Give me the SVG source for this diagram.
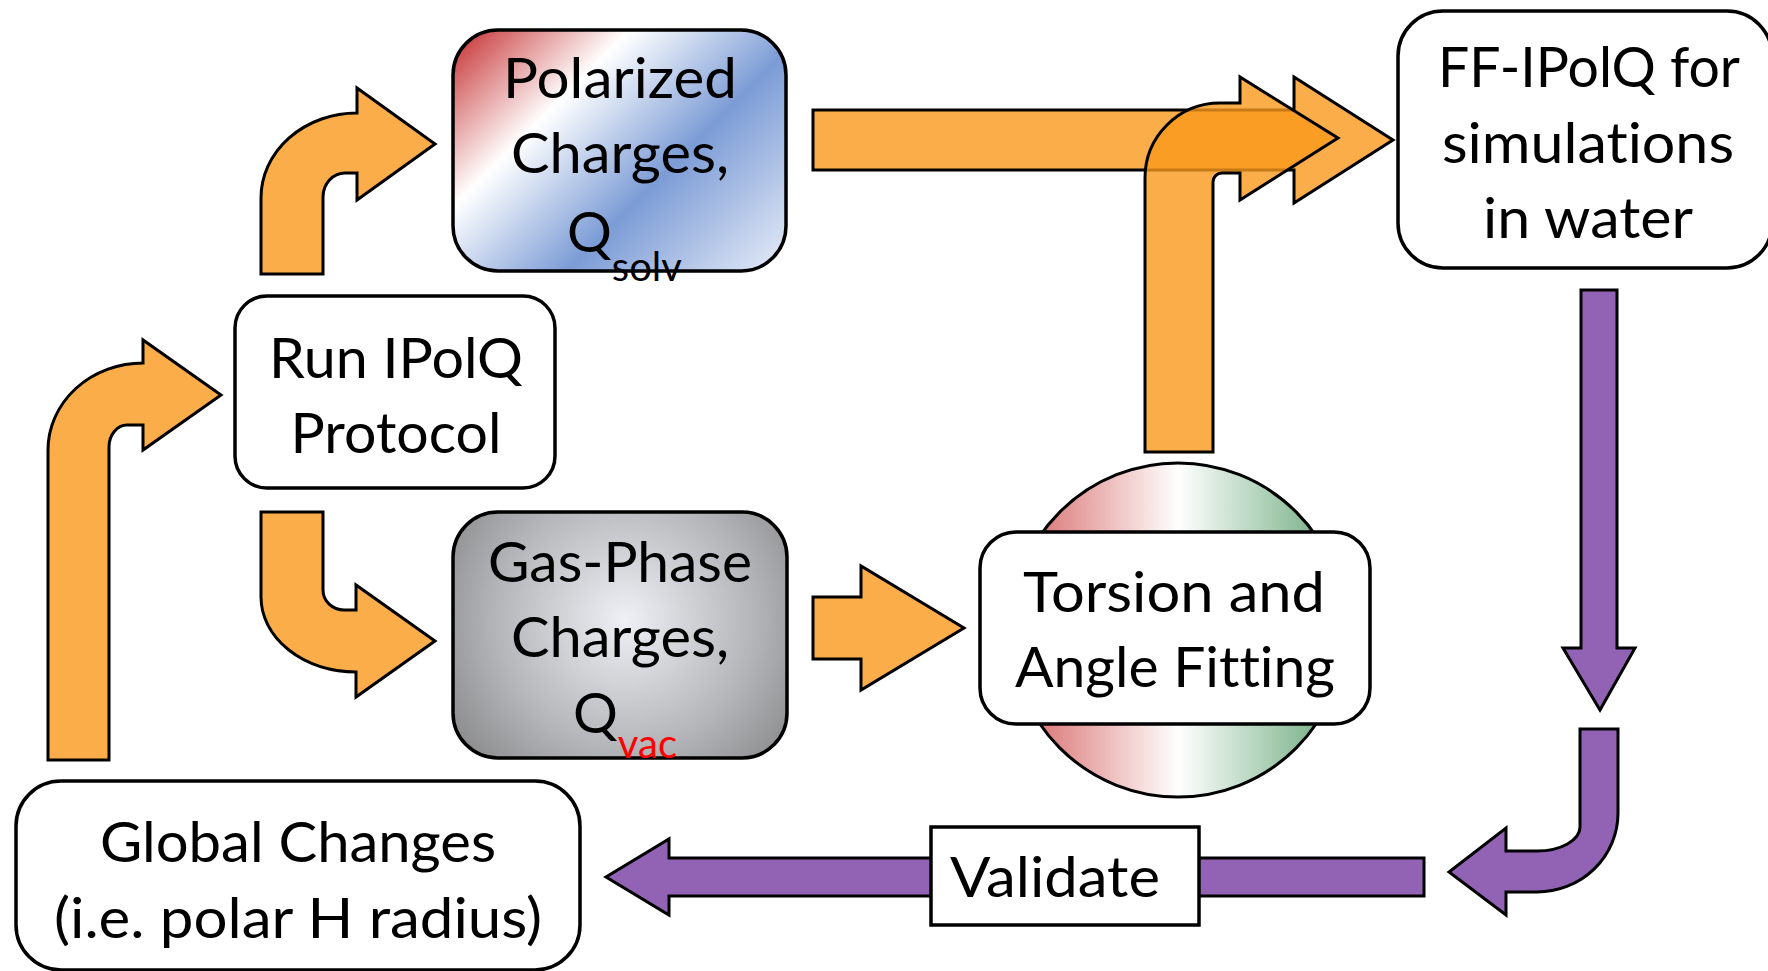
<svg xmlns="http://www.w3.org/2000/svg" width="1768" height="971" viewBox="0 0 1768 971">
<defs>
<style>
.box{stroke:#000;stroke-width:3.5}
.org{fill:#F9991C;fill-opacity:0.8;stroke:#000;stroke-width:3;stroke-linejoin:miter}
.pur{fill:#9263B5;stroke:#000;stroke-width:3;stroke-linejoin:miter}
.t{font-family:Lato,"Open Sans","Liberation Sans",sans-serif;font-size:56px;fill:#000;text-anchor:middle;font-variant-ligatures:none;font-feature-settings:"liga" 0,"dlig" 0}
.ts{font-family:Lato,"Open Sans","Liberation Sans",sans-serif;font-size:56px;fill:#000;font-variant-ligatures:none;font-feature-settings:"liga" 0}
</style>
<linearGradient id="gPol" gradientUnits="userSpaceOnUse" x1="453" y1="30" x2="739" y2="316">
<stop offset="0" stop-color="#c42a2c"/>
<stop offset="0.31" stop-color="#ffffff"/>
<stop offset="0.62" stop-color="#7c9cd6"/>
<stop offset="1" stop-color="#e6ecf7"/>
</linearGradient>
<radialGradient id="gGas" gradientUnits="userSpaceOnUse" cx="625" cy="620" r="235">
<stop offset="0" stop-color="#eff0f5"/>
<stop offset="0.55" stop-color="#b4b5b9"/>
<stop offset="1" stop-color="#7c7c7c"/>
</radialGradient>
<linearGradient id="gTor" gradientUnits="userSpaceOnUse" x1="1011" y1="0" x2="1345" y2="0">
<stop offset="0" stop-color="#d4605f"/>
<stop offset="0.5" stop-color="#ffffff"/>
<stop offset="1" stop-color="#64a575"/>
</linearGradient>
</defs>
<rect width="1768" height="971" fill="#fff"/>

<g id="connectors">
<path class="org" d="M 261 274 L 261 198 A 96 85 0 0 1 357 113 L 357 88 L 435 144 L 357 200 L 357 173 L 345 173 A 22 24 0 0 0 323 197 L 323 274 Z"/>
<path class="org" d="M 48 760 L 48 450 A 95 87 0 0 1 143 363 L 143 340 L 221 395 L 143 450 L 143 425 L 127 425 A 18 22 0 0 0 109 447 L 109 760 Z"/>
<path class="org" d="M 261 512 L 323 512 L 323 590 A 21 20 0 0 0 344 610 L 356 610 L 356 585 L 435 641 L 356 697 L 356 672 A 95 75 0 0 1 261 597 Z"/>
<path class="org" d="M 813 597 L 861 597 L 861 566 L 964 628 L 861 690 L 861 659 L 813 659 Z"/>
<path class="org" d="M 813 110 L 1294 110 L 1294 77 L 1393 140 L 1294 203 L 1294 170 L 813 170 Z"/>
<path class="org" d="M 1145 452 L 1145 178 A 75 75 0 0 1 1220 103 L 1240 103 L 1240 77 L 1338 138 L 1240 200 L 1240 173 L 1222 173 A 9 9 0 0 0 1213 182 L 1213 452 Z"/>
<path class="pur" d="M 1581 290 L 1617 290 L 1617 648 L 1635 648 L 1600 710 L 1563 648 L 1581 648 Z"/>
<path class="pur" d="M 1580 729 L 1618 729 L 1618 813 A 81 79 0 0 1 1537 892 L 1506 892 L 1506 915 L 1449 872 L 1506 828 L 1506 851 L 1537 851 A 43 24 0 0 0 1580 827 Z"/>
<path class="pur" d="M 1424 858 L 669 858 L 669 839 L 606 877 L 669 915 L 669 896 L 1424 896 Z"/>
</g>

<g id="node-polarized">
<rect class="box" x="453" y="30" width="333" height="241" rx="45" fill="url(#gPol)"/>
<text class="t" x="620" y="98" textLength="234" lengthAdjust="spacingAndGlyphs">Polarized</text>
<text class="t" x="620" y="173" textLength="218" lengthAdjust="spacingAndGlyphs">Charges,</text>
<text class="ts" x="567" y="252">Q<tspan font-size="40" dy="29">solv</tspan></text>
</g>

<g id="node-run">
<rect class="box" x="235" y="296" width="320" height="192" rx="32" fill="#fff"/>
<text class="t" x="396" y="378" textLength="254" lengthAdjust="spacingAndGlyphs">Run IPolQ</text>
<text class="t" x="396" y="453" textLength="211" lengthAdjust="spacingAndGlyphs">Protocol</text>
</g>

<g id="node-gas">
<rect class="box" x="453" y="512" width="334" height="246" rx="45" fill="url(#gGas)"/>
<text class="t" x="620" y="582" textLength="264" lengthAdjust="spacingAndGlyphs">Gas-Phase</text>
<text class="t" x="620" y="657" textLength="218" lengthAdjust="spacingAndGlyphs">Charges,</text>
<text class="ts" x="573" y="733">Q<tspan font-size="40" dy="25" fill="#ff0000">vac</tspan></text>
</g>

<g id="node-torsion">
<circle cx="1178" cy="630" r="167" fill="url(#gTor)" stroke="#000" stroke-width="3"/>
<rect class="box" x="980" y="532" width="390" height="192" rx="36" fill="#fff"/>
<text class="t" x="1174" y="612" textLength="302" lengthAdjust="spacingAndGlyphs">Torsion and</text>
<text class="t" x="1175" y="687" textLength="320" lengthAdjust="spacingAndGlyphs">Angle Fitting</text>
</g>

<g id="node-ff">
<rect class="box" x="1398" y="11" width="374" height="257" rx="45" fill="#fff"/>
<text class="t" x="1589" y="87" textLength="302" lengthAdjust="spacingAndGlyphs">FF-IPolQ for</text>
<text class="t" x="1588" y="163" textLength="292" lengthAdjust="spacingAndGlyphs">simulations</text>
<text class="t" x="1588" y="238" textLength="210" lengthAdjust="spacingAndGlyphs">in water</text>
</g>

<g id="node-validate">
<rect class="box" x="931" y="827" width="268" height="98" fill="#fff"/>
<text class="t" x="1055" y="897" textLength="210" lengthAdjust="spacingAndGlyphs">Validate</text>
</g>

<g id="node-global">
<rect class="box" x="16" y="781" width="564" height="189" rx="45" fill="#fff"/>
<text class="t" x="298" y="862" textLength="396" lengthAdjust="spacingAndGlyphs">Global Changes</text>
<text class="t" x="298" y="938" textLength="488" lengthAdjust="spacingAndGlyphs">(i.e. polar H radius)</text>
</g>
</svg>
